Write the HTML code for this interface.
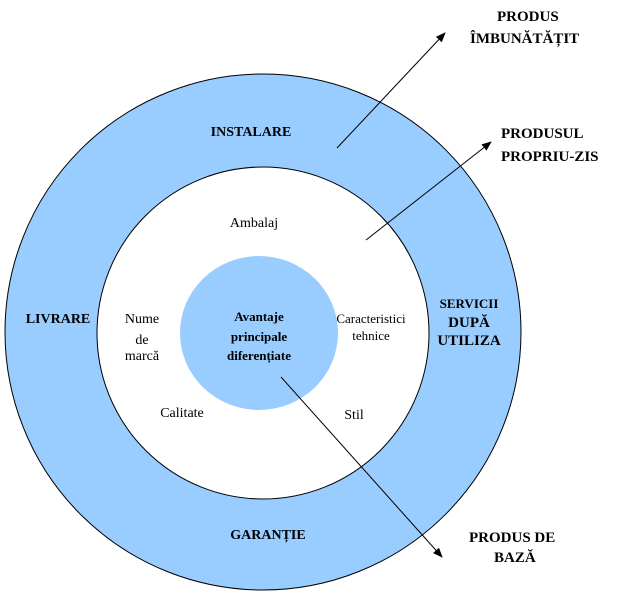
<!DOCTYPE html>
<html><head><meta charset="utf-8"><style>
body{margin:0;background:#fff}
svg text{font-family:"Liberation Serif",serif;fill:#000}
</style></head><body>
<svg width="624" height="592" viewBox="0 0 624 592" xmlns="http://www.w3.org/2000/svg">
<defs><marker id="a" markerWidth="10" markerHeight="8" refX="9" refY="4" orient="auto" markerUnits="userSpaceOnUse"><path d="M0,0 L10,4 L0,8 z" fill="#000"/></marker></defs>
<circle cx="263" cy="332" r="258" fill="#99ccff" stroke="#000" stroke-width="1"/>
<circle cx="263" cy="333" r="166" fill="#fff" stroke="#000" stroke-width="1"/>
<ellipse cx="259" cy="333" rx="79" ry="77" fill="#99ccff"/>
<line x1="337" y1="148" x2="445" y2="33" stroke="#000" marker-end="url(#a)"/>
<line x1="366" y1="240" x2="491" y2="142" stroke="#000" marker-end="url(#a)"/>
<line x1="281" y1="377" x2="442" y2="557" stroke="#000" marker-end="url(#a)"/>
<g font-weight="bold" font-size="14" text-anchor="middle">
<text x="251" y="136">INSTALARE</text>
<text x="58" y="323">LIVRARE</text>
<text x="268" y="539">GARANȚIE</text>
<text x="469" y="308" font-size="13">SERVICII</text>
<text x="469" y="327" font-size="15">DUPĂ</text>
<text x="469" y="345" font-size="15">UTILIZA</text>
<text x="259" y="321" font-size="13">Avantaje</text>
<text x="259" y="341" font-size="13">principale</text>
<text x="259" y="360" font-size="13">diferențiate</text>
</g>
<g font-weight="bold" font-size="15">
<text x="497" y="21">PRODUS</text>
<text x="470" y="43">ÎMBUNĂTĂȚIT</text>
<text x="501" y="138">PRODUSUL</text>
<text x="501" y="161">PROPRIU-ZIS</text>
<text x="469" y="542">PRODUS DE</text>
<text x="494" y="562">BAZĂ</text>
</g>
<g font-size="14" text-anchor="middle">
<text x="254" y="227">Ambalaj</text>
<text x="142" y="323">Nume</text>
<text x="142" y="344">de</text>
<text x="142" y="360">marcă</text>
<text x="182" y="417">Calitate</text>
<text x="371" y="323" font-size="13">Caracteristici</text>
<text x="371" y="340" font-size="13">tehnice</text>
<text x="354" y="419">Stil</text>
</g>
</svg>
</body></html>
